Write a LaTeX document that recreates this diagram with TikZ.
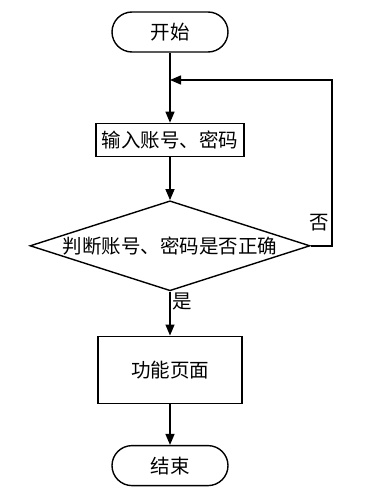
\documentclass[tikz,border=0pt]{standalone}
\usepackage{fontspec}
\newfontfamily\cjk{Noto Sans CJK SC}
\usetikzlibrary{arrows.meta,positioning,shapes.geometric}

\begin{document}
\begin{tikzpicture}[x=1pt,y=-1pt,node distance=40pt,
  every node/.style={font=\cjk\fontsize{19.5}{22}\selectfont},
  term/.style={draw,line width=1.4pt,rounded corners=20pt,minimum width=116pt,minimum height=40pt},
  procbox/.style={draw,line width=1.4pt,minimum width=148pt,minimum height=33pt,inner sep=0pt},
  judge/.style={draw,line width=1.4pt,diamond,aspect=3.1,minimum width=280pt,minimum height=90pt,inner sep=0pt},
  flow/.style={line width=1.4pt,-{Triangle[length=11pt,width=9pt]}}]
\useasboundingbox (0,0) rectangle (377,495);
\node[term] (start) at (170,32) {开始};
\node[procbox,below=70pt of start] (input) {输入账号、密码};
\node[judge,below=43pt of input] (check) {\makebox[0pt]{判断账号、密码是否正确}};
\node[procbox,below=44pt of check,minimum width=144pt,minimum height=67pt] (func) {功能页面};
\node[term,below=41pt of func] (stop) {结束};
\coordinate (join) at (start |- 0,80);
\coordinate (back) at (332,80);
\draw[flow] (start) -- (input);
\draw[flow] (input) -- (check);
\draw[flow] (check) -- node[right,pos=0.22,inner sep=2pt] (yes) {是} (func);
\draw[flow] (func) -- (stop);
\draw[flow] (check.east) -| node[left,pos=0.57,inner sep=2pt] (no) {否} (back) -- (join);
\end{tikzpicture}
\end{document}
